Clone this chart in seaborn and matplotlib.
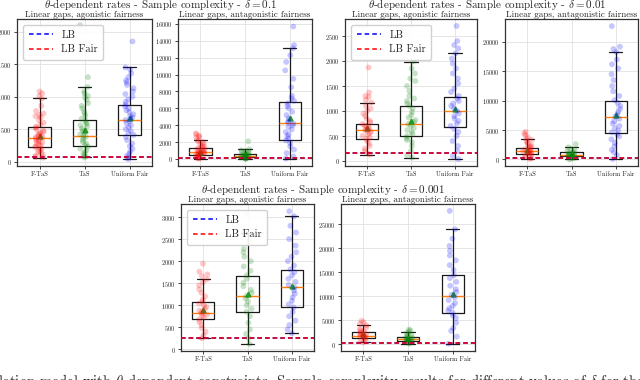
"""
Sample complexity boxplots, theta-dependent rates
==================================================
Three values of delta, agonistic vs antagonistic fairness.
"""

import pandas as pd
import matplotlib
matplotlib.use("Agg")
import matplotlib.pyplot as plt
import seaborn as sns

sns.set_style("ticks", {"axes.grid": True, "grid.color": ".88"})
plt.rcParams["font.family"] = "serif"
plt.rcParams["font.serif"] = ["cmr10", "DejaVu Serif"]
plt.rcParams["mathtext.fontset"] = "cm"
plt.rcParams["axes.formatter.use_mathtext"] = True

METHODS = ["F-TaS", "TaS", "Uniform Fair"]
COLORS = ["red", "green", "blue"]
DELTAS = ["0.1", "0.01", "0.001"]
SUBTITLES = ["Linear gaps, agonistic fairness", "Linear gaps, antagonistic fairness"]
CAPTION = (r"lation model with $\theta$-dependent constraints. Sample complexity "
           r"results for different values of $\delta$ for the")

# box stats per method: (whislo, q1, med, q3, whishi, mean)
d1_ago_box = [(62, 220, 369, 528, 974, 400), (67, 236, 400, 636, 1154, 487),
              (41, 405, 641, 867, 1451, 667)]
d1_ant_box = [(0, 474, 790, 1264, 2250, 870), (0, 200, 400, 632, 1150, 500),
              (50, 2290, 4225, 6750, 13110, 4900)]
d2_ago_box = [(127, 447, 620, 747, 1167, 653), (67, 493, 747, 1107, 1987, 800),
              (40, 680, 993, 1273, 2153, 1040)]
d2_ant_box = [(60, 850, 1360, 1990, 3520, 1590), (0, 510, 740, 1190, 2050, 850),
              (57, 4430, 7270, 10000, 18300, 7610)]
d3_ago_box = [(250, 680, 816, 1066, 1587, 892), (121, 854, 1209, 1662, 2630, 1255),
              (363, 952, 1406, 1806, 3015, 1443)]
d3_ant_box = [(417, 1250, 1806, 2500, 3960, 2080), (140, 764, 1111, 1600, 2640, 1250),
              (140, 6597, 10000, 14375, 23960, 10555)]

# individual runs
d1_ago_pts = [
    [60, 75, 90, 110, 130, 150, 170, 190, 205, 220, 235, 250, 265, 280, 295, 310, 325,
     340, 355, 365, 375, 390, 400, 415, 430, 445, 460, 480, 500, 520, 540, 570, 600,
     640, 680, 700, 720, 740, 780, 860, 970, 1010, 1050, 1080],
    [65, 80, 100, 120, 150, 170, 200, 230, 250, 280, 300, 330, 360, 380, 400, 420, 450,
     480, 510, 540, 560, 580, 600, 630, 660, 700, 740, 770, 820, 860, 900, 950, 990,
     1010, 1050, 1080, 1150, 1300, 2100],
    [40, 60, 90, 120, 160, 200, 240, 280, 330, 380, 410, 440, 470, 500, 530, 560, 590,
     620, 640, 660, 680, 700, 730, 760, 790, 820, 850, 880, 920, 960, 1000, 1040, 1080,
     1130, 1180, 1220, 1250, 1300, 1360, 1420, 1450, 1850],
]
d1_ant_pts = [
    [30, 80, 150, 220, 300, 380, 450, 500, 560, 620, 680, 740, 790, 840, 900, 960, 1020,
     1100, 1180, 1260, 1350, 1450, 1560, 1700, 1850, 2000, 2100, 2250, 2500, 2600, 2750,
     2900, 3040],
    [10, 40, 80, 120, 160, 200, 240, 280, 320, 360, 400, 440, 480, 520, 580, 630, 700,
     780, 850, 950, 1050, 1150, 2100],
    [50, 300, 700, 1100, 1500, 1900, 2200, 2400, 2700, 2900, 3200, 3500, 3800, 4000, 4200,
     4300, 4500, 4800, 5200, 5600, 6000, 6300, 6600, 6900, 7200, 7500, 8500, 9500, 10500,
     11500, 12300, 13110, 13500, 15700],
]
d2_ago_pts = [
    [127, 160, 200, 250, 300, 350, 400, 440, 470, 500, 530, 560, 590, 610, 630, 650, 670,
     690, 710, 740, 770, 800, 850, 900, 950, 1000, 1050, 1100, 1167, 1220, 1280, 1300,
     1370, 1870],
    [67, 120, 200, 300, 380, 420, 460, 500, 540, 580, 620, 660, 700, 740, 780, 820, 870,
     920, 980, 1050, 1100, 1150, 1200, 1250, 1300, 1400, 1500, 1600, 1650, 1750, 1850,
     1987, 2580],
    [40, 100, 200, 300, 400, 500, 580, 640, 700, 750, 800, 850, 900, 950, 1000, 1050, 1100,
     1150, 1200, 1250, 1300, 1380, 1450, 1550, 1650, 1750, 1850, 1950, 2050, 2153, 2250,
     2320, 2400, 2700],
]
d2_ant_pts = [
    [60, 200, 400, 600, 800, 900, 1000, 1100, 1200, 1300, 1400, 1500, 1600, 1750, 1900,
     2050, 2200, 2400, 2600, 2850, 3100, 3300, 3520, 3800, 4100, 4400, 4700],
    [0, 100, 200, 300, 400, 500, 580, 650, 720, 800, 880, 960, 1050, 1150, 1250, 1400,
     1600, 1800, 2050, 2600],
    [57, 700, 1200, 1600, 2200, 2800, 3400, 3900, 4300, 4600, 4900, 5300, 5700, 6100, 6500,
     6900, 7300, 7700, 8100, 8600, 9100, 9600, 10100, 10800, 11600, 12500, 13500, 14500,
     15500, 16200, 17000, 18300, 18800, 19200, 22700],
]
d3_ago_pts = [
    [250, 320, 400, 480, 550, 620, 680, 720, 760, 790, 820, 850, 880, 920, 960, 1000, 1040,
     1080, 1130, 1200, 1280, 1360, 1450, 1520, 1587, 1660, 1700, 1760, 1940],
    [121, 250, 350, 450, 600, 750, 850, 920, 1000, 1080, 1150, 1210, 1280, 1350, 1430, 1510,
     1600, 1680, 1780, 1880, 2000, 2100, 2200, 2280, 2450, 2630, 3080],
    [363, 450, 550, 650, 750, 850, 950, 1020, 1100, 1180, 1260, 1330, 1400, 1460, 1530, 1600,
     1680, 1750, 1810, 1900, 2000, 2100, 2200, 2350, 2500, 2650, 2800, 3015, 3130],
]
d3_ant_pts = [
    [417, 700, 1000, 1250, 1400, 1550, 1700, 1800, 1900, 2000, 2150, 2300, 2500, 2700,
     2950, 3200, 3500, 3960, 4300, 4600, 4900],
    [140, 300, 500, 700, 800, 900, 1000, 1100, 1200, 1300, 1450, 1600, 1800, 2000, 2300,
     2640, 2900, 3100],
    [140, 1600, 2800, 3400, 4500, 5500, 6000, 6600, 7000, 7500, 8000, 8600, 9200, 9800,
     10300, 10900, 11500, 12200, 13000, 13800, 14400, 15500, 16500, 17500, 18500, 19500,
     20500, 22000, 23960, 27800],
]

# lower bounds (LB and LB Fair overlap)
lb_vals = {"d1_ago": 77, "d1_ant": 90, "d2_ago": 167, "d2_ant": 170,
           "d3_ago": 250, "d3_ant": 200}


def draw_panel(ax, points, box, lb, legend=False):
    stats = [dict(whislo=b[0], q1=b[1], med=b[2], q3=b[3], whishi=b[4], mean=b[5])
             for b in box]
    ax.bxp(stats, positions=[0, 1, 2], widths=0.5, capwidths=0.3, showmeans=True,
           showfliers=False, manage_ticks=False,
           boxprops=dict(color="0.1", lw=0.9), whiskerprops=dict(color="0.1", lw=0.9),
           capprops=dict(color="0.1", lw=0.9), medianprops=dict(color="C1", lw=1.0),
           meanprops=dict(marker="^", markerfacecolor="C2", markeredgecolor="C2",
                          markersize=3.5))
    df = pd.DataFrame({
        "method": [m for m, p in zip(METHODS, points) for _ in p],
        "value": [v for p in points for v in p],
    })
    sns.stripplot(data=df, x="method", y="value", hue="method", order=METHODS,
                  palette=COLORS, alpha=0.22, size=4.2, jitter=0.1, linewidth=0,
                  legend=False, ax=ax, zorder=3)
    ax.axhline(lb, color="blue", ls="--", lw=1.1, dashes=(3, 2), label="LB", zorder=4)
    ax.axhline(lb, color="red", ls="--", lw=1.1, dashes=(3, 2), label="LB Fair", zorder=4)
    ax.set_xlim(-0.5, 2.5)
    ax.set_xticks([0, 1, 2])
    ax.set_xticklabels(METHODS)
    ax.set_xlabel("")
    ax.set_ylabel("")
    ax.grid(True, axis="both", lw=0.6)
    ax.tick_params(labelsize=4.6, length=2.5, width=0.6, pad=1.5)
    for s in ax.spines.values():
        s.set_linewidth(0.9)
        s.set_color("0.2")
    if legend:
        ax.legend(loc="upper left", fontsize=7.6, handlelength=2.3, borderpad=0.5,
                  labelspacing=0.45, handletextpad=0.8, framealpha=0.9,
                  edgecolor="0.8", borderaxespad=0.6)


def add_axes_px(fig, left, right, top, bottom):
    return fig.add_axes([left / 640, 1 - bottom / 380, (right - left) / 640,
                         (bottom - top) / 380])


fig = plt.figure(figsize=(6.4, 3.8), dpi=100)

groups = [
    (0, 160, 4.5, [(17, 152, 19, 166), (178, 312, 19, 166)],
     [(d1_ago_pts, d1_ago_box, lb_vals["d1_ago"], (-67, 2195)),
      (d1_ant_pts, d1_ant_box, lb_vals["d1_ant"], (-830, 16590))]),
    (1, 487, 4.5, [(345, 477, 19, 166), (505, 638, 19, 166)],
     [(d2_ago_pts, d2_ago_box, lb_vals["d2_ago"], (-100, 2840)),
      (d2_ant_pts, d2_ant_box, lb_vals["d2_ant"], (-1136, 23920))]),
    (2, 323, 189.5, [(181, 314, 204, 351), (341, 475, 204, 351)],
     [(d3_ago_pts, d3_ago_box, lb_vals["d3_ago"], (-38, 3295)),
      (d3_ant_pts, d3_ant_box, lb_vals["d3_ant"], (-1390, 29235))]),
]

for di, cx, ty, rects, panels in groups:
    fig.text(cx / 640, 1 - ty / 380,
             r"$\theta$-dependent rates - Sample complexity - $\delta = " + DELTAS[di] + "$",
             ha="center", va="center", fontsize=8.0)
    for j, (rect, (pts, box, lb, ylim)) in enumerate(zip(rects, panels)):
        ax = add_axes_px(fig, *rect)
        draw_panel(ax, pts, box, lb, legend=(j == 0))
        ax.set_ylim(*ylim)
        ax.set_title(SUBTITLES[j], fontsize=6.5, pad=1.2)

fig.text(-2 / 640, -6 / 380, CAPTION, ha="left", va="baseline", fontsize=10.5)

fig.savefig("out.png", dpi=100)
